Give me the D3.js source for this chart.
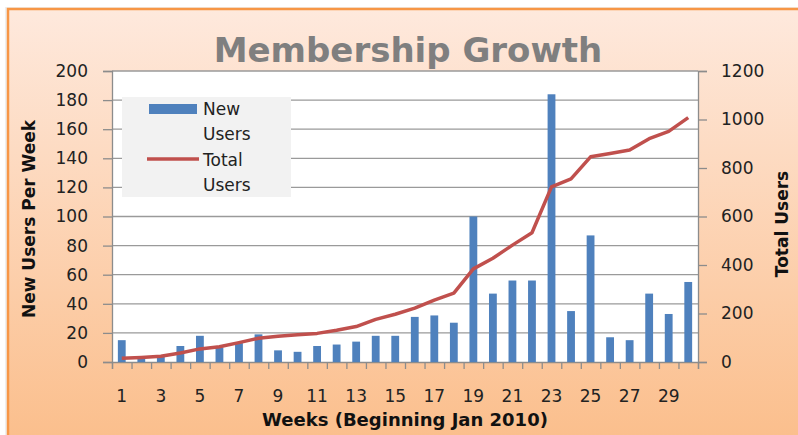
<!DOCTYPE html>
<html>
<head>
<meta charset="utf-8">
<script src="https://cdn.jsdelivr.net/npm/d3@7"></script>
<style>
  body { margin: 0; background: #fff; }
  svg { display: block; }
  text { font-family: "DejaVu Sans", sans-serif; }
</style>
</head>
<body>
<svg id="chart"></svg>
<script>
// data
const weeks = [1, 2, 3, 4, 5, 6, 7, 8, 9, 10, 11, 12, 13, 14, 15,
               16, 17, 18, 19, 20, 21, 22, 23, 24, 25, 26, 27, 28, 29, 30];
const newUsers = [15, 3, 4, 11, 18, 10, 13, 19, 8, 7, 11, 12, 14, 18, 18,
                  31, 32, 27, 100, 47, 56, 56, 184, 35, 87, 17, 15, 47, 33, 55];
const totalUsers = [15, 19, 24, 37, 54, 63, 80, 98, 106, 112, 118, 131, 146, 176, 197,
                    222, 255, 284, 384, 428, 482, 533, 722, 755, 846, 860, 874, 921, 951, 1008];
const leftTicks = [0, 20, 40, 60, 80, 100, 120, 140, 160, 180, 200];
const rightTicks = [0, 200, 400, 600, 800, 1000, 1200];
const weekLabels = [1, 3, 5, 7, 9, 11, 13, 15, 17, 19, 21, 23, 25, 27, 29];

const width = 798, height = 435;
const margin = { top: 71, right: 100, bottom: 73, left: 112 };
const innerWidth = width - margin.left - margin.right;
const innerHeight = height - margin.top - margin.bottom;

const svg = d3.select('#chart')
    .attr('width', width)
    .attr('height', height);

// background gradient (chart area)
const defs = svg.append('defs');
const grad = defs.append('linearGradient')
    .attr('id', 'bg')
    .attr('x1', 0).attr('y1', 0).attr('x2', 0).attr('y2', 1);
grad.append('stop').attr('offset', '0%').attr('stop-color', '#fee9dd');
grad.append('stop').attr('offset', '100%').attr('stop-color', '#fbbf8d');

// faint shadow, then the chart area with its top and left border only
svg.append('rect')
    .attr('x', 5).attr('y', 7)
    .attr('width', width - 5).attr('height', height - 7)
    .attr('fill', '#efefef');
svg.append('rect')
    .attr('x', 8).attr('y', 9)
    .attr('width', width - 8).attr('height', height - 9)
    .attr('fill', 'url(#bg)');
svg.append('path')
    .attr('d', `M8,${height}V9H${width}`)
    .attr('fill', 'none')
    .attr('stroke', '#f79646')
    .attr('stroke-width', 2.5);

// title
svg.append('text')
    .attr('x', 408).attr('y', 62)
    .attr('text-anchor', 'middle')
    .attr('font-size', 34)
    .attr('font-weight', 'bold')
    .attr('fill', '#7f7f7f')
    .text('Membership Growth');

const chart = svg.append('g')
    .attr('transform', `translate(${margin.left}, ${margin.top})`);

chart.append('rect')
    .attr('width', innerWidth).attr('height', innerHeight)
    .attr('fill', '#fff');

// scales
const xscale = d3.scaleBand()
    .domain(weeks)
    .range([0, innerWidth])
    .paddingInner(0.6)
    .paddingOuter(0.3);
const yLeft = d3.scaleLinear().domain([0, 200]).range([innerHeight, 0]);
const yRight = d3.scaleLinear().domain([0, 1200]).range([innerHeight, 0]);

// gridlines
chart.append('g')
    .selectAll('line')
    .data(leftTicks.slice(1))
    .enter()
    .append('line')
    .attr('x1', 0).attr('x2', innerWidth)
    .attr('y1', d => yLeft(d)).attr('y2', d => yLeft(d))
    .attr('stroke', '#9a9a9a')
    .attr('stroke-width', 1.3);

// axes
const leftAxis = chart.append('g')
    .call(d3.axisLeft(yLeft).tickValues(leftTicks).tickSize(9).tickPadding(15));
const rightAxis = chart.append('g')
    .attr('transform', `translate(${innerWidth}, 0)`)
    .call(d3.axisRight(yRight).tickValues(rightTicks).tickSize(9).tickPadding(14)
        .tickFormat(d3.format('d')));

const boundaryScale = d3.scaleLinear().domain([0, weeks.length]).range([0, innerWidth]);
const bottomAxis = chart.append('g')
    .attr('transform', `translate(0, ${innerHeight})`)
    .call(d3.axisBottom(boundaryScale).tickValues(d3.range(0, weeks.length + 1)).tickSize(7).tickFormat(''));

[leftAxis, rightAxis, bottomAxis].forEach(g => {
    g.select('.domain').attr('stroke', '#8c8c8c').attr('stroke-width', 1.3);
    g.selectAll('.tick line').attr('stroke', '#8c8c8c').attr('stroke-width', 1.3);
    g.selectAll('.tick text')
        .attr('font-family', '"DejaVu Sans", sans-serif')
        .attr('font-size', 17)
        .attr('fill', '#222');
});

// week labels (odd weeks)
chart.append('g')
    .selectAll('text')
    .data(weekLabels)
    .enter()
    .append('text')
    .attr('x', d => xscale(d) + xscale.bandwidth() / 2)
    .attr('y', innerHeight + 40)
    .attr('text-anchor', 'middle')
    .attr('font-size', 17)
    .attr('fill', '#222')
    .text(d => d);

// bars
chart.append('g')
    .selectAll('rect')
    .data(weeks)
    .enter()
    .append('rect')
    .attr('x', d => xscale(d))
    .attr('y', (d, i) => yLeft(newUsers[i]))
    .attr('width', xscale.bandwidth())
    .attr('height', (d, i) => innerHeight - yLeft(newUsers[i]))
    .attr('fill', '#4f81bd');

// total users line
const line = d3.line()
    .x((d, i) => xscale(weeks[i]) + xscale.bandwidth() / 2)
    .y(d => yRight(d));
chart.append('path')
    .datum(totalUsers)
    .attr('d', line)
    .attr('fill', 'none')
    .attr('stroke', '#c0504d')
    .attr('stroke-width', 3.5)
    .attr('stroke-linejoin', 'round');

// axis titles
svg.append('text')
    .attr('x', 405).attr('y', 426)
    .attr('text-anchor', 'middle')
    .attr('font-size', 18)
    .attr('font-weight', 'bold')
    .attr('fill', '#111')
    .text('Weeks (Beginning Jan 2010)');

svg.append('text')
    .attr('transform', 'translate(35, 219) rotate(-90)')
    .attr('text-anchor', 'middle')
    .attr('font-size', 17)
    .attr('font-weight', 'bold')
    .attr('fill', '#111')
    .text('New Users Per Week');

svg.append('text')
    .attr('transform', 'translate(788, 224) rotate(-90)')
    .attr('text-anchor', 'middle')
    .attr('font-size', 17)
    .attr('font-weight', 'bold')
    .attr('fill', '#111')
    .text('Total Users');

// legend
const legend = svg.append('g');
legend.append('rect')
    .attr('x', 122).attr('y', 97)
    .attr('width', 169).attr('height', 100)
    .attr('fill', '#f2f2f2');
legend.append('rect')
    .attr('x', 149).attr('y', 104)
    .attr('width', 48).attr('height', 10)
    .attr('fill', '#4f81bd');
legend.append('line')
    .attr('x1', 147).attr('x2', 199)
    .attr('y1', 159).attr('y2', 159)
    .attr('stroke', '#c0504d')
    .attr('stroke-width', 3.5);
const legendLabels = [['New', 115], ['Users', 140], ['Total', 166], ['Users', 191]];
legend.selectAll('text')
    .data(legendLabels)
    .enter()
    .append('text')
    .attr('x', 203)
    .attr('y', d => d[1])
    .attr('font-size', 17)
    .attr('fill', '#222')
    .text(d => d[0]);
</script>
</body>
</html>
